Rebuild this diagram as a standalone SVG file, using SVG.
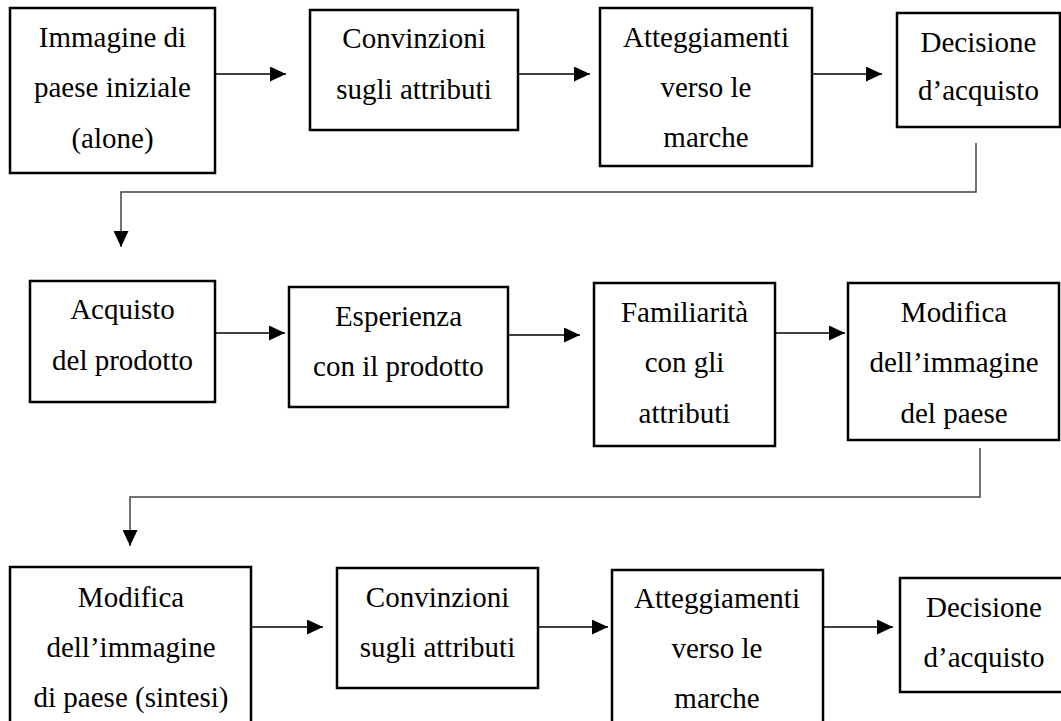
<svg xmlns="http://www.w3.org/2000/svg" width="1061" height="721" viewBox="0 0 1061 721">
<style>
.box{fill:#fff;stroke:#000;stroke-width:2.5}
.t{font-family:"Liberation Serif","Times New Roman",serif;font-size:29px;fill:#000;text-anchor:middle}
.a{fill:none;stroke:#000;stroke-width:1.3}
.e{fill:none;stroke:#444;stroke-width:1.5}
</style>
<defs>
<marker id="ah" viewBox="0 0 16 15" refX="16" refY="7.5" markerWidth="16" markerHeight="15" markerUnits="userSpaceOnUse" orient="auto">
<path d="M0,0 L16,7.5 L0,15 z" fill="#000"/>
</marker>
</defs>
<rect width="1061" height="721" fill="#fff"/>
<g id="connectors">
<line class="a" x1="215" y1="74" x2="286" y2="74" marker-end="url(#ah)"/>
<line class="a" x1="518" y1="74" x2="590" y2="74" marker-end="url(#ah)"/>
<line class="a" x1="812" y1="74" x2="882" y2="74" marker-end="url(#ah)"/>
<polyline class="e" points="976,143 976,192 121,192 121,247" marker-end="url(#ah)"/>
<line class="a" x1="215" y1="333" x2="285" y2="333" marker-end="url(#ah)"/>
<line class="a" x1="508" y1="335" x2="580" y2="335" marker-end="url(#ah)"/>
<line class="a" x1="775" y1="333" x2="845" y2="333" marker-end="url(#ah)"/>
<polyline class="e" points="980,448 980,497 130,497 130,546" marker-end="url(#ah)"/>
<line class="a" x1="251" y1="627" x2="323" y2="627" marker-end="url(#ah)"/>
<line class="a" x1="538" y1="627" x2="608" y2="627" marker-end="url(#ah)"/>
<line class="a" x1="823" y1="627" x2="893" y2="627" marker-end="url(#ah)"/>
</g>
<g id="n1"><rect class="box" x="10" y="8" width="205" height="165"/>
<text class="t" x="112.5" y="47">Immagine di</text><text class="t" x="112.5" y="97">paese iniziale</text><text class="t" x="112.5" y="148">(alone)</text></g>
<g id="n2"><rect class="box" x="310" y="10" width="208" height="120"/>
<text class="t" x="414" y="48">Convinzioni</text><text class="t" x="414" y="99">sugli attributi</text></g>
<g id="n3"><rect class="box" x="600" y="8" width="212" height="158"/>
<text class="t" x="706" y="47">Atteggiamenti</text><text class="t" x="706" y="97">verso le</text><text class="t" x="706" y="147">marche</text></g>
<g id="n4"><rect class="box" x="897" y="13" width="163" height="114"/>
<text class="t" x="978.5" y="52">Decisione</text><text class="t" x="978.5" y="100">d’acquisto</text></g>
<g id="n5"><rect class="box" x="30" y="281" width="185" height="121"/>
<text class="t" x="122.5" y="319">Acquisto</text><text class="t" x="122.5" y="370">del prodotto</text></g>
<g id="n6"><rect class="box" x="289" y="287" width="219" height="120"/>
<text class="t" x="398.5" y="326">Esperienza</text><text class="t" x="398.5" y="376">con il prodotto</text></g>
<g id="n7"><rect class="box" x="594" y="283" width="181" height="163"/>
<text class="t" x="684.5" y="322">Familiarità</text><text class="t" x="684.5" y="372">con gli</text><text class="t" x="684.5" y="423">attributi</text></g>
<g id="n8"><rect class="box" x="848" y="283" width="211" height="157"/>
<text class="t" x="954" y="322">Modifica</text><text class="t" x="954" y="372">dell’immagine</text><text class="t" x="954" y="423">del paese</text></g>
<g id="n9"><rect class="box" x="10" y="567" width="241" height="170"/>
<text class="t" x="131" y="607">Modifica</text><text class="t" x="131" y="657">dell’immagine</text><text class="t" x="131" y="707">di paese (sintesi)</text></g>
<g id="n10"><rect class="box" x="337" y="568" width="201" height="120"/>
<text class="t" x="437.5" y="607">Convinzioni</text><text class="t" x="437.5" y="657">sugli attributi</text></g>
<g id="n11"><rect class="box" x="612" y="570" width="211" height="170"/>
<text class="t" x="717" y="608">Atteggiamenti</text><text class="t" x="717" y="658">verso le</text><text class="t" x="717" y="708">marche</text></g>
<g id="n12"><rect class="box" x="900" y="578" width="170" height="114"/>
<text class="t" x="984" y="617">Decisione</text><text class="t" x="984" y="667">d’acquisto</text></g>
</svg>
